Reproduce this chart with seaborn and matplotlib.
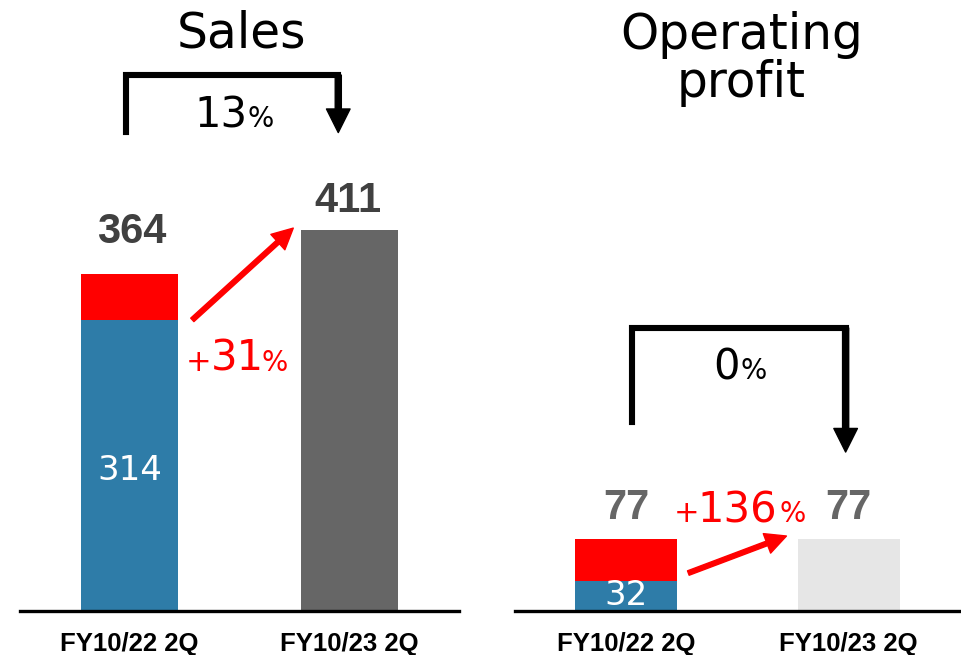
import matplotlib
matplotlib.use("Agg")
import matplotlib.pyplot as plt
import seaborn as sns
import pandas as pd

sns.set_theme(style="white")
plt.rcParams['font.family'] = ['DejaVu Sans']

# ---- data ----
categories = ["FY10/22 2Q", "FY10/23 2Q"]
sales_total = [364, 411]
sales_base = [314]          # blue part of FY10/22 2Q
op_total = [77, 77]
op_base = [32]              # blue part of FY10/22 2Q
sales_growth = "31"         # red arrow label
op_growth = "136"
sales_change = "13"         # black bracket label
op_change = "0"

RED = "#ff0000"
BLUE = "#2e7ca8"
DARK = "#666666"
LIGHT = "#e6e6e6"
SANS = ['DejaVu Sans']
ARIAL = ['Liberation Sans', 'DejaVu Sans']

fig = plt.figure(figsize=(9.61, 6.55), dpi=100)
W, H = 961, 655
ax1 = fig.add_axes([20 / W, 44 / H, 439 / W, 611 / H])
ax2 = fig.add_axes([515 / W, 44 / H, 445 / W, 611 / H])


def draw_panel(ax, totals, base, colors, width, ymax):
    df = pd.DataFrame({"cat": categories, "val": totals})
    sns.barplot(data=df, x="cat", y="val", hue="cat", order=categories,
                palette=dict(zip(categories, colors)), width=width,
                legend=False, saturation=1, ax=ax)
    dfb = pd.DataFrame({"cat": categories[:len(base)], "val": base})
    sns.barplot(data=dfb, x="cat", y="val", order=categories, color=BLUE,
                width=width, saturation=1, ax=ax)
    for p in ax.patches:
        p.set_edgecolor("none")
    ax.set_xlim(-0.5, 1.5)
    ax.set_ylim(0, ymax)
    ax.set_xlabel("")
    ax.set_ylabel("")
    ax.set_yticks([])
    for s in ["left", "right", "top"]:
        ax.spines[s].set_visible(False)
    ax.spines["bottom"].set_color("black")
    ax.spines["bottom"].set_linewidth(2.4)
    ax.tick_params(axis="x", length=0, pad=15)
    for lab in ax.get_xticklabels():
        lab.set_fontfamily(ARIAL)
        lab.set_fontweight("bold")
        lab.set_fontsize(18.5)
        lab.set_color("black")
    ax.patch.set_alpha(0)


def bracket(ax, x0, x1, ybot, ytop, ytip):
    ax.plot([x0, x0, x1], [ybot, ytop, ytop], color="black", lw=4.4,
            solid_capstyle="projecting", solid_joinstyle="miter", clip_on=False)
    ax.annotate("", xy=(x1, ytip), xytext=(x1, ytop),
                arrowprops=dict(facecolor="black", edgecolor="black", width=4.4,
                                headwidth=17, headlength=17, shrink=0),
                annotation_clip=False)


def red_arrow(ax, start, end):
    ax.annotate("", xy=end, xytext=start,
                arrowprops=dict(facecolor=RED, edgecolor=RED, width=3.4,
                                headwidth=15, headlength=15, shrink=0),
                annotation_clip=False)


def txt(ax, x, y, s, ha, size, color, family=SANS, weight="normal"):
    ax.text(x, y, s, ha=ha, va="baseline", fontsize=size, color=color,
            family=family, fontweight=weight, clip_on=False)


# ---- left panel: Sales ----
draw_panel(ax1, sales_total, sales_base, [RED, DARK], 0.442, 659)
txt(ax1, 0.51, 608, "Sales", "center", 35, "black")
bracket(ax1, -0.016, 0.95, 517, 578, 516)
txt(ax1, 0.535, 522, sales_change, "right", 30, "black")
txt(ax1, 0.535, 522, "%", "left", 20, "black")
txt(ax1, 0.007, 397, str(sales_total[0]), "center", 30, "#404040", ARIAL, "bold")
txt(ax1, 0.995, 430, str(sales_total[1]), "center", 30, "#404040", ARIAL, "bold")
txt(ax1, 0.0, 141, str(sales_base[0]), "center", 24.5, "white")
red_arrow(ax1, (0.285, 314), (0.745, 413))
txt(ax1, 0.368, 259, sales_growth, "left", 30, RED)
txt(ax1, 0.373, 259, "+", "right", 22, RED)
txt(ax1, 0.6, 259, sales_growth and "%", "left", 20, RED)

# ---- right panel: Operating profit ----
draw_panel(ax2, op_total, op_base, [RED, LIGHT], 0.46, 653.5)
txt(ax2, 0.518, 601, "Operating", "center", 35, "black")
txt(ax2, 0.518, 550, "profit", "center", 35, "black")
bracket(ax2, 0.027, 0.986, 202, 302.7, 170)
txt(ax2, 0.512, 248, op_change, "right", 30, "black")
txt(ax2, 0.512, 248, "%", "left", 20, "black")
txt(ax2, 0.0, 98.4, str(op_total[0]), "center", 30, "#666666", ARIAL, "bold")
txt(ax2, 1.0, 98.4, str(op_total[1]), "center", 30, "#666666", ARIAL, "bold")
txt(ax2, 0.0, 6.4, str(op_base[0]), "center", 24.5, "white")
red_arrow(ax2, (0.279, 40.6), (0.72, 80.2))
txt(ax2, 0.322, 95, op_growth, "left", 30, RED)
txt(ax2, 0.328, 95, "+", "right", 22, RED)
txt(ax2, 0.69, 95, "%", "left", 20, RED)

fig.savefig("out.png", dpi=100, facecolor="white")
